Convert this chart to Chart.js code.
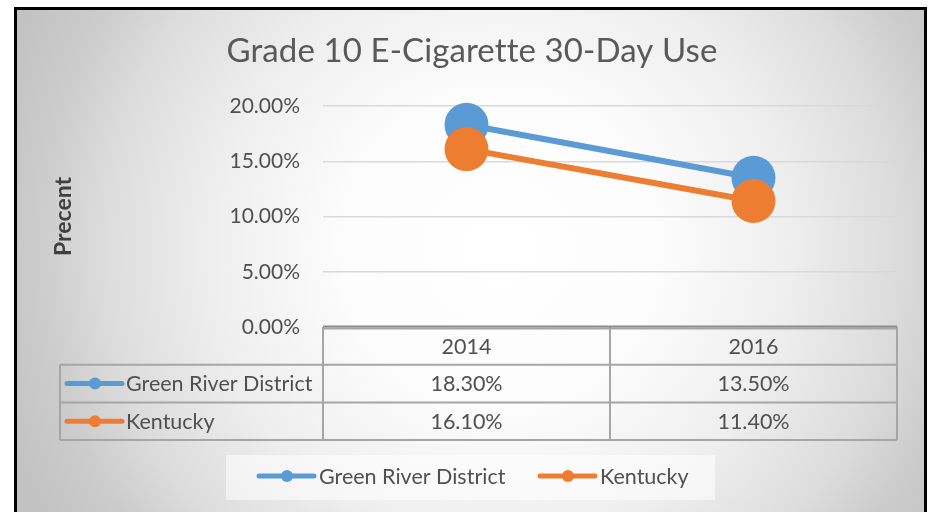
<!DOCTYPE html>
<html>
<head>
<meta charset="utf-8">
<script src="https://cdn.jsdelivr.net/npm/chart.js@4.4.1/dist/chart.umd.min.js"></script>
<style>
  html, body { margin: 0; padding: 0; background: #fff; }
  #wrap { width: 930px; height: 512px; }
</style>
</head>
<body>
<div id="wrap"><canvas id="chart" width="930" height="512"></canvas></div>
<script>
// data
const years = ['2014', '2016'];
const greenRiver = [18.30, 13.50];
const kentucky = [16.10, 11.40];
const seriesNames = ['Green River District', 'Kentucky'];
const yTicks = [0, 5, 10, 15, 20];
const chartTitle = 'Grade 10 E-Cigarette 30-Day Use';
const yTitle = 'Precent';

const BLUE = '#5B9BD5', ORANGE = '#ED7D31', TXT = '#505050';
const FONT = 'Lato, "Open Sans", sans-serif';
const fmt = v => v.toFixed(2) + '%';

// background, frame and title
const backdrop = {
  id: 'backdrop',
  beforeDraw(chart) {
    const ctx = chart.ctx;
    ctx.save();
    ctx.fillStyle = '#fff';
    ctx.fillRect(0, 0, chart.width, chart.height);
    const g = ctx.createRadialGradient(500, 250, 0, 500, 250, 530);
    g.addColorStop(0, '#ffffff');
    g.addColorStop(0.3, '#fcfcfc');
    g.addColorStop(0.55, '#eeeeee');
    g.addColorStop(0.75, '#dcdcdc');
    g.addColorStop(0.87, '#cccccc');
    g.addColorStop(1, '#c2c2c2');
    ctx.fillStyle = g;
    ctx.fillRect(15, 8, 911, 520);
    ctx.strokeStyle = '#000';
    ctx.lineWidth = 3;
    ctx.strokeRect(15.5, 8.5, 910, 520);

    ctx.fillStyle = '#595959';
    ctx.font = '33px ' + FONT;
    ctx.letterSpacing = '0.1px'; // no "tt" ligature
    ctx.textAlign = 'center';
    ctx.textBaseline = 'middle';
    ctx.fillText(chartTitle, 472, 51);
    ctx.restore();
  }
};

function keySymbol(ctx, x, y, color) {
  ctx.strokeStyle = color;
  ctx.lineWidth = 5;
  ctx.lineCap = 'round';
  ctx.beginPath();
  ctx.moveTo(x, y);
  ctx.lineTo(x + 55, y);
  ctx.stroke();
  ctx.fillStyle = color;
  ctx.beginPath();
  ctx.arc(x + 28, y, 6, 0, Math.PI * 2);
  ctx.fill();
}

// data table under the plot plus the legend box
const dataTable = {
  id: 'dataTable',
  afterDraw(chart) {
    const ctx = chart.ctx;
    const xs = chart.scales.x;
    const area = chart.chartArea;
    const cols = [area.left];
    for (let i = 0; i < years.length - 1; i++) {
      cols.push((xs.getPixelForValue(i) + xs.getPixelForValue(i + 1)) / 2);
    }
    cols.push(area.right);
    const rowH = 37.7;
    const top = area.bottom;
    const rows = [top, top + rowH, top + rowH * 2, top + rowH * 3];
    const labelLeft = 60;

    ctx.save();
    ctx.strokeStyle = '#a6a6a6';
    ctx.lineWidth = 2;
    ctx.beginPath();
    // horizontal lines
    ctx.moveTo(area.left, rows[0] + 1.5); ctx.lineTo(area.right, rows[0] + 1.5);
    for (let r = 1; r < rows.length; r++) {
      ctx.moveTo(labelLeft, rows[r]); ctx.lineTo(area.right, rows[r]);
    }
    // vertical lines
    cols.forEach(cx => { ctx.moveTo(cx, rows[0]); ctx.lineTo(cx, rows[3]); });
    ctx.moveTo(labelLeft, rows[1]); ctx.lineTo(labelLeft, rows[3]);
    ctx.stroke();

    // axis line at 0
    ctx.strokeStyle = '#8c8c8c';
    ctx.lineWidth = 2;
    ctx.beginPath();
    ctx.moveTo(area.left, rows[0] - 0.5); ctx.lineTo(area.right, rows[0] - 0.5);
    ctx.stroke();

    ctx.font = '21.5px ' + FONT;
    ctx.fillStyle = TXT;
    ctx.textBaseline = 'middle';
    ctx.textAlign = 'center';
    years.forEach((y, i) => ctx.fillText(y, xs.getPixelForValue(i), rows[0] + rowH / 2 + 1));
    [greenRiver, kentucky].forEach((vals, s) => {
      vals.forEach((v, i) => ctx.fillText(fmt(v), xs.getPixelForValue(i), rows[s + 1] + rowH / 2 + 1));
    });
    [BLUE, ORANGE].forEach((c, s) => {
      const cy = rows[s + 1] + rowH / 2;
      keySymbol(ctx, 67, cy, c);
      ctx.fillStyle = TXT;
      ctx.textAlign = 'left';
      ctx.fillText(seriesNames[s], 126, cy + 1);
    });

    // legend
    ctx.fillStyle = 'rgba(255,255,255,0.55)';
    ctx.fillRect(226, 455, 489, 45);
    const legX = [259, 540];
    [BLUE, ORANGE].forEach((c, s) => {
      keySymbol(ctx, legX[s], 476, c);
      ctx.fillStyle = TXT;
      ctx.textAlign = 'left';
      ctx.fillText(seriesNames[s], legX[s] + 60, 477);
    });
    ctx.restore();
  }
};

new Chart(document.getElementById('chart'), {
  type: 'line',
  data: {
    labels: years,
    datasets: [
      { label: seriesNames[0], data: greenRiver, borderColor: BLUE, backgroundColor: BLUE, order: 2 },
      { label: seriesNames[1], data: kentucky, borderColor: ORANGE, backgroundColor: ORANGE, order: 1 }
    ]
  },
  options: {
    responsive: false,
    animation: false,
    devicePixelRatio: 1,
    layout: { padding: { left: 0, right: 33, top: 106, bottom: 185 } },
    elements: {
      line: { borderWidth: 6, tension: 0 },
      point: { radius: 22, hoverRadius: 22, borderWidth: 0 }
    },
    datasets: { line: { clip: false } },
    plugins: { legend: { display: false }, tooltip: { enabled: false } },
    scales: {
      x: { type: 'category', offset: true, display: false },
      y: {
        min: 0, max: 20,
        afterFit(scale) { scale.width = 323; },
        afterBuildTicks(scale) { scale.ticks = yTicks.map(v => ({ value: v })); },
        border: { display: false },
        grid: {
          drawTicks: false,
          color: ctx => ctx.tick && ctx.tick.value === 0 ? 'rgba(0,0,0,0)' : '#d9d9d9',
          lineWidth: 1.5
        },
        ticks: {
          padding: 23,
          color: TXT,
          font: { family: FONT, size: 21 },
          callback: v => fmt(v)
        },
        title: {
          display: true,
          text: yTitle,
          color: '#404040',
          font: { family: FONT, size: 23, weight: 'bold' },
          padding: { top: 50, bottom: 0 }
        }
      }
    }
  },
  plugins: [backdrop, dataTable]
});
</script>
</body>
</html>
